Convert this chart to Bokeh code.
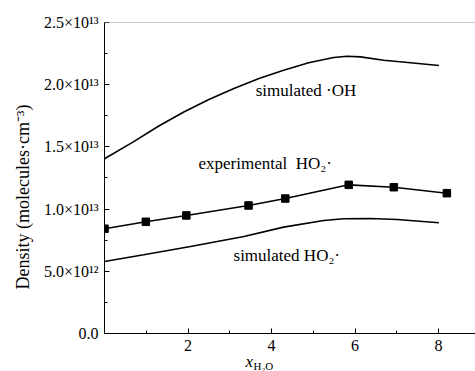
from bokeh.plotting import figure
from bokeh.models import Range1d, FixedTicker, Span, Label, CustomJSTickFormatter
from bokeh.embed import file_html
from bokeh.resources import INLINE

# experimental HO2 (markers)
exp_x = [0.0, 0.99, 1.96, 3.45, 4.33, 5.85, 6.93, 8.2]
exp_y = [0.842e13, 0.898e13, 0.949e13, 1.029e13, 1.085e13, 1.195e13, 1.176e13, 1.128e13]

# simulated HO2
sho2_x = [0.0, 0.94, 2.06, 3.34, 4.29, 5.25, 5.73, 6.37, 7.01, 8.01]
sho2_y = [0.579e13, 0.633e13, 0.699e13, 0.780e13, 0.855e13, 0.908e13, 0.922e13, 0.924e13, 0.916e13, 0.890e13]

# simulated OH
soh_x = [0.0, 0.69, 1.29, 1.90, 2.50, 3.10, 3.70, 4.29, 4.89, 5.49, 5.81, 6.13, 6.69, 7.33, 8.01]
soh_y = [1.405e13, 1.540e13, 1.666e13, 1.781e13, 1.881e13, 1.970e13, 2.050e13, 2.117e13,
         2.176e13, 2.219e13, 2.229e13, 2.224e13, 2.197e13, 2.176e13, 2.154e13]

x_major = [2, 4, 6, 8]
x_minor = [1, 3, 5, 7]
y_major = [0, 5e12, 1e13, 1.5e13, 2e13, 2.5e13]
y_minor = [2.5e12, 7.5e12, 1.25e13, 1.75e13, 2.25e13]

FONT = "Liberation Serif"

p = figure(width=475, height=371, output_backend="svg", toolbar_location=None,
           x_range=Range1d(0, 8.886), y_range=Range1d(-3.055e12, 2.5e13),
           min_border_left=104, min_border_right=0, min_border_top=22, min_border_bottom=0)
p.background_fill_color = "white"
p.border_fill_color = "white"
p.outline_line_color = None
p.grid.visible = False

p.add_layout(Span(location=2.5e13, dimension="width", line_color="#999999", line_width=1))

xa = p.xaxis[0]
xa.fixed_location = 0
xa.ticker = FixedTicker(ticks=x_major, minor_ticks=x_minor)
xa.major_tick_in = 5
xa.major_tick_out = 0
xa.minor_tick_in = 3
xa.minor_tick_out = 0
xa.axis_line_color = "black"
xa.major_tick_line_color = "black"
xa.minor_tick_line_color = "black"
xa.major_label_text_font = FONT
xa.major_label_text_font_size = "16px"
xa.major_label_text_color = "black"
xa.major_label_standoff = 7

ya = p.yaxis[0]
ya.bounds = (0, 2.5e13)
ya.ticker = FixedTicker(ticks=y_major, minor_ticks=y_minor)
ya.major_tick_in = 5
ya.major_tick_out = 0
ya.minor_tick_in = 3
ya.minor_tick_out = 0
ya.axis_line_color = "black"
ya.major_tick_line_color = "black"
ya.minor_tick_line_color = "black"
ya.major_label_text_font = FONT
ya.major_label_text_font_size = "16px"
ya.major_label_text_color = "black"
ya.major_label_standoff = 6
ya.formatter = CustomJSTickFormatter(code="""
if (tick == 0) return "0.0";
const e = Math.floor(Math.log10(tick) + 1e-9);
const m = tick / Math.pow(10, e);
const sup = {"0":"\u2070","1":"\u00b9","2":"\u00b2","3":"\u00b3","4":"\u2074","5":"\u2075","6":"\u2076","7":"\u2077","8":"\u2078","9":"\u2079"};
let s = "";
for (const c of String(e)) s += sup[c];
return m.toFixed(1) + "\u00d710" + s;
""")
ya.axis_label = "Density (molecules\u00b7cm\u207b\u00b3)"
ya.axis_label_text_font = FONT
ya.axis_label_text_font_size = "18px"
ya.axis_label_text_font_style = "normal"
ya.axis_label_text_color = "black"
ya.axis_label_standoff = 8

p.line(soh_x, soh_y, line_color="black", line_width=1.6)
p.line(sho2_x, sho2_y, line_color="black", line_width=1.6)
p.line(exp_x, exp_y, line_color="black", line_width=1.6)
p.scatter(exp_x, exp_y, marker="square", size=7.5, fill_color="black", line_color="black")

def lab(x, y, t, size="17px", style="normal"):
    p.add_layout(Label(x=x, y=y, text=t, text_font=FONT, text_font_size=size,
                       text_font_style=style, text_color="black", text_baseline="middle"))

lab(3.62, 1.953e13, "simulated \u00b7OH")
lab(2.25, 1.367e13, "experimental\u00a0\u00a0HO\u2082\u00b7")
lab(3.09, 0.627e13, "simulated HO\u2082\u00b7")

# x-axis label x_{H2O}
lab(3.38, -2.25e12, "x", size="17px", style="italic")
lab(3.57, -2.6e12, "H\u2082O", size="11px")

open("out.html", "w").write(file_html(p, INLINE))
